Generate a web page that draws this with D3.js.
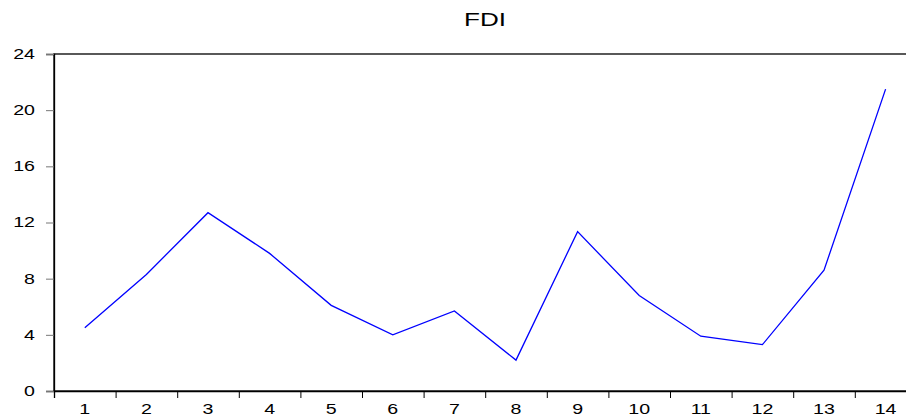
<!DOCTYPE html>
<html>
<head>
<meta charset="utf-8">
<script src="https://cdn.jsdelivr.net/npm/d3@7"></script>
<style>
  body { margin: 0; background: #fff; }
  svg { display: block; font-family: "Liberation Sans", Arial, sans-serif; }
</style>
</head>
<body>
<svg id="chart" width="906" height="418"></svg>
<script>
// data
const periods = [1, 2, 3, 4, 5, 6, 7, 8, 9, 10, 11, 12, 13, 14];
const fdi = [4.5, 8.3, 12.7, 9.8, 6.1, 4.0, 5.7, 2.2, 11.35, 6.8, 3.9, 3.3, 8.6, 21.5];
const yTicks = [0, 4, 8, 12, 16, 20, 24];
const title = 'FDI';

const svg = d3.select('#chart');
const plotL = 54, plotT = 54, plotB = 391, plotR = 916.4;
const stretch = 1.4; // text in the reference is drawn wide

const x = d3.scaleBand().domain(periods).range([plotL, plotR]).padding(0);
const xEdge = d3.scaleLinear().domain([0, periods.length]).range([plotL, plotR]);
const y = d3.scaleLinear().domain([0, 24]).range([plotB, plotT]);

// frame (right side falls outside the picture)
svg.append('rect')
  .attr('x', plotL).attr('y', plotT)
  .attr('width', plotR - plotL).attr('height', plotB - plotT)
  .attr('fill', 'none').attr('stroke', '#000').attr('stroke-width', 1.3);

// y axis
const gy = svg.append('g')
  .attr('transform', `translate(${plotL},0)`)
  .call(d3.axisLeft(y).tickValues(yTicks).tickSize(8).tickPadding(11));
gy.select('.domain').attr('stroke', '#000').attr('stroke-width', 1.3);
gy.selectAll('.tick line').attr('stroke', '#777');
gy.selectAll('.tick text').each(function () {
  const t = d3.select(this);
  const tx = +t.attr('x');
  t.attr('x', 0).attr('transform', `translate(${tx},0) scale(${stretch},1)`);
}).attr('font-size', 14).attr('fill', '#000');

// x axis: ticks at period boundaries, labels centred
const gxTicks = svg.append('g')
  .attr('transform', `translate(0,${plotB})`)
  .call(d3.axisBottom(xEdge).ticks(periods.length).tickSize(7).tickFormat(''));
gxTicks.select('.domain').attr('stroke', '#000').attr('stroke-width', 1.3);
gxTicks.selectAll('.tick line').attr('stroke', '#000');

const gx = svg.append('g')
  .attr('transform', `translate(0,${plotB})`)
  .call(d3.axisBottom(x).tickSize(0).tickPadding(13));
gx.select('.domain').remove();
gx.selectAll('.tick text').each(function () {
  const t = d3.select(this);
  const ty = +t.attr('y');
  t.attr('y', 0).attr('transform', `translate(0,${ty}) scale(${stretch},1)`);
}).attr('font-size', 14).attr('fill', '#000');

// series line
const line = d3.line()
  .x((d, i) => x(periods[i]) + x.bandwidth() / 2)
  .y(d => y(d));

svg.append('path')
  .datum(fdi)
  .attr('d', line)
  .attr('fill', 'none')
  .attr('stroke', '#0000ff')
  .attr('stroke-width', 1.3)
  .attr('stroke-linejoin', 'miter');

// title
svg.append('text')
  .attr('transform', `translate(485,26) scale(${stretch + 0.05},1)`)
  .attr('text-anchor', 'middle')
  .attr('font-size', 18)
  .attr('fill', '#000')
  .text(title);
</script>
</body>
</html>
